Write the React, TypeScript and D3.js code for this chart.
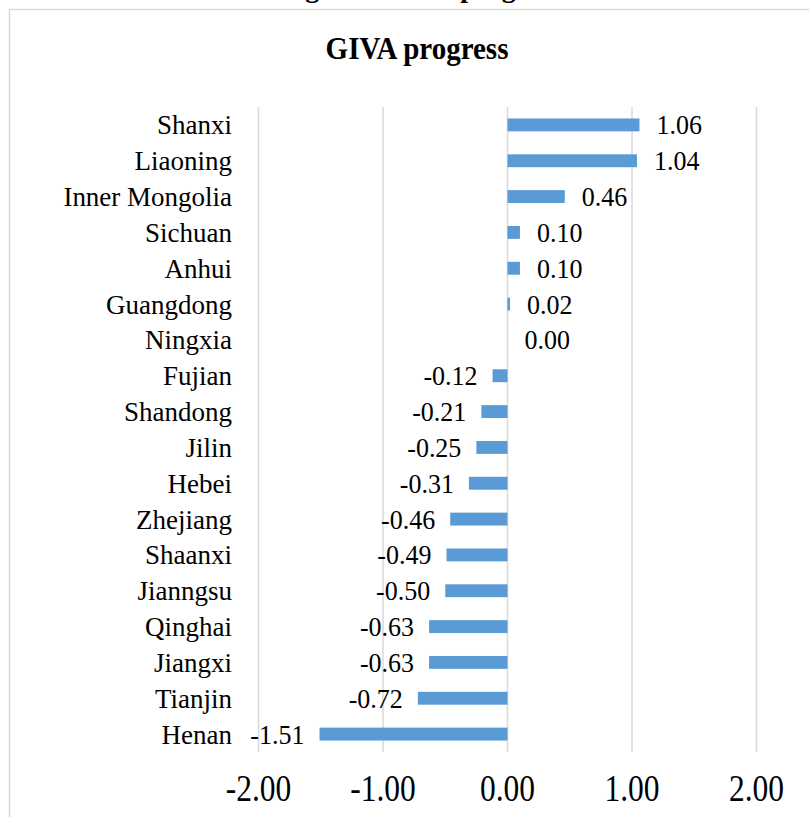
import { useEffect, useRef } from 'react';
import * as d3 from 'd3';

const categories = [
  'Shanxi', 'Liaoning', 'Inner Mongolia', 'Sichuan', 'Anhui', 'Guangdong',
  'Ningxia', 'Fujian', 'Shandong', 'Jilin', 'Hebei', 'Zhejiang', 'Shaanxi',
  'Jianngsu', 'Qinghai', 'Jiangxi', 'Tianjin', 'Henan',
];
const values = [
  1.06, 1.04, 0.46, 0.1, 0.1, 0.02, 0.0, -0.12, -0.21, -0.25, -0.31, -0.46,
  -0.49, -0.5, -0.63, -0.63, -0.72, -1.51,
];
const xTicks = [-2, -1, 0, 1, 2];

const W = 809;
const H = 817;
const FONT = '"Liberation Serif", "Times New Roman", serif';

// Excel style number: plain hyphen instead of the unicode minus d3 uses
const fmt = (v: number) => d3.format('.2f')(v).replace('\u2212', '-');

const App = () => {
  const svgRef = useRef<SVGSVGElement>(null);

  useEffect(() => {
    if (!svgRef.current) return;
    const svg = d3.select(svgRef.current);
    svg.selectAll('*').remove();

    const rows = categories.map((name, i) => ({ name, value: values[i] }));

    const x = d3.scaleLinear().domain([-2, 2]).range([258.5, 756.5]);
    const y = d3.scaleBand()
      .domain(categories)
      .range([107, 752])
      .paddingInner(0.64)
      .paddingOuter(0.32);

    svg.append('rect')
      .attr('width', W)
      .attr('height', H)
      .attr('fill', '#ffffff');

    // chart frame (runs off the right and bottom edges)
    svg.append('rect')
      .attr('x', 9.5)
      .attr('y', 9.5)
      .attr('width', W + 20)
      .attr('height', H + 20)
      .attr('fill', 'none')
      .attr('stroke', '#d9d9d9')
      .attr('stroke-width', 1.5);

    // caption cut off above the frame
    svg.append('text')
      .attr('x', 562)
      .attr('y', -3)
      .attr('text-anchor', 'end')
      .attr('font-family', FONT)
      .attr('font-weight', 'bold')
      .attr('font-size', 28)
      .text('Regional GIVA progress');

    svg.append('text')
      .attr('transform', 'translate(417,59) scale(1,1.08)')
      .attr('text-anchor', 'middle')
      .attr('font-family', FONT)
      .attr('font-weight', 'bold')
      .attr('font-size', 29)
      .attr('fill', '#000')
      .text('GIVA progress');

    // gridlines
    svg.append('g')
      .selectAll('line')
      .data(xTicks)
      .join('line')
      .attr('x1', d => x(d))
      .attr('x2', d => x(d))
      .attr('y1', 107)
      .attr('y2', 752)
      .attr('stroke', '#d9d9d9')
      .attr('stroke-width', 1.5);

    // bars
    svg.append('g')
      .selectAll('rect')
      .data(rows)
      .join('rect')
      .attr('x', d => Math.min(x(0), x(d.value)))
      .attr('y', d => y(d.name)!)
      .attr('width', d => Math.abs(x(d.value) - x(0)))
      .attr('height', y.bandwidth())
      .attr('fill', '#5b9bd5');

    // value labels
    svg.append('g')
      .selectAll('text')
      .data(rows)
      .join('text')
      .attr('transform', d => {
        const tx = d.value < 0 ? x(d.value) - 15 : x(d.value) + 17;
        const ty = y(d.name)! + y.bandwidth() / 2 + 9.5;
        return `translate(${tx},${ty}) scale(1,1.06)`;
      })
      .attr('text-anchor', d => (d.value < 0 ? 'end' : 'start'))
      .attr('font-family', FONT)
      .attr('font-size', 26)
      .attr('fill', '#000')
      .text(d => fmt(d.value));

    // category labels
    svg.append('g')
      .selectAll('text')
      .data(rows)
      .join('text')
      .attr('transform', d => `translate(232,${y(d.name)! + y.bandwidth() / 2 + 9.5}) scale(1,1.03)`)
      .attr('text-anchor', 'end')
      .attr('font-family', FONT)
      .attr('font-size', 27)
      .attr('fill', '#000')
      .text(d => d.name);

    // x tick labels
    svg.append('g')
      .selectAll('text')
      .data(xTicks)
      .join('text')
      .attr('transform', d => `translate(${x(d)},801) scale(1,1.18)`)
      .attr('text-anchor', 'middle')
      .attr('font-family', FONT)
      .attr('font-size', 31.5)
      .attr('fill', '#000')
      .text(d => fmt(d));
  }, []);

  return (
    <svg
      ref={svgRef}
      width={W}
      height={H}
      style={{ position: 'absolute', left: 0, top: 0, display: 'block' }}
    />
  );
};

export default App;
